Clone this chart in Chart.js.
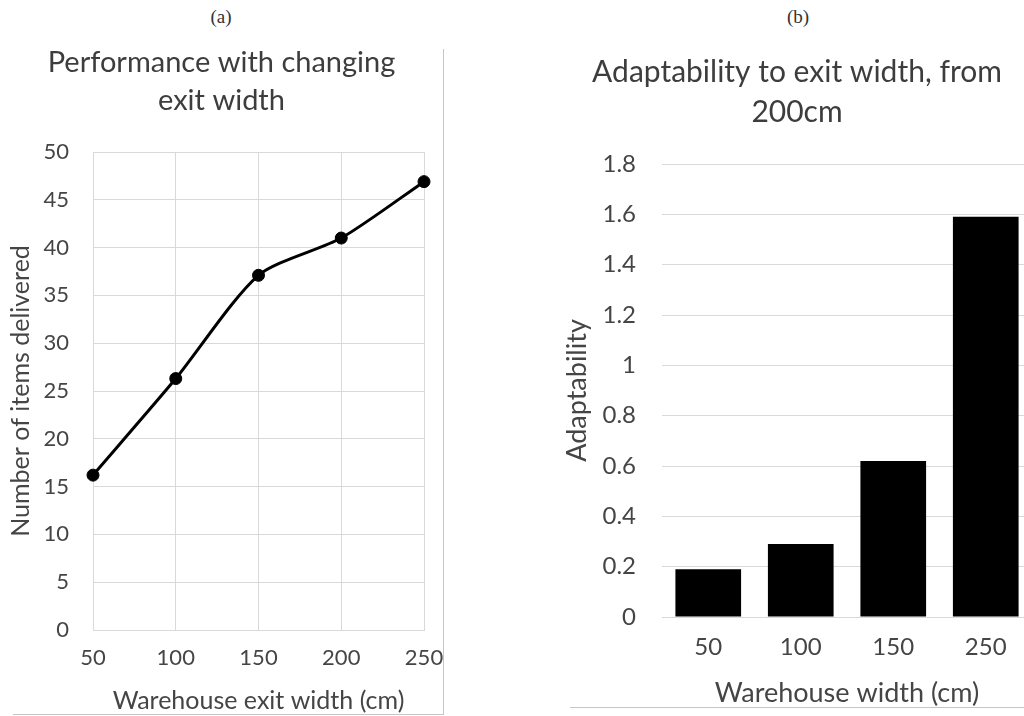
<!DOCTYPE html>
<html>
<head>
<meta charset="utf-8">
<script src="https://cdn.jsdelivr.net/npm/chart.js@4.4.1/dist/chart.umd.min.js"></script>
<style>
  html, body { margin: 0; padding: 0; background: #fff; }
  body { width: 1024px; height: 716px; position: relative; overflow: hidden; }
  .panel-tag { position: absolute; top: 6px; width: 60px; text-align: center; font: 19px "Liberation Serif", "DejaVu Serif", serif; color: #333; }
  canvas { position: absolute; }
  #boxA { position: absolute; left: 13px; top: 49px; width: 430px; height: 665px; border-right: 1px solid #c6c6c6; border-bottom: 1px solid #c6c6c6; }
  #lineB { position: absolute; left: 570px; top: 707px; width: 460px; height: 0; border-top: 1px solid #c6c6c6; }
</style>
</head>
<body>
<div class="panel-tag" style="left:191px">(a)</div>
<div class="panel-tag" style="left:768px">(b)</div>
<div id="boxA"></div>
<div id="lineB"></div>
<canvas id="perfChart" width="443" height="674" style="left:0;top:40px"></canvas>
<canvas id="adaptChart" width="474" height="667" style="left:560px;top:40px"></canvas>
<script>
// (a) performance with changing exit width
const exitWidths = ["50", "100", "150", "200", "250"]
const itemsDelivered = [16.2, 26.3, 37.1, 41.0, 46.9]
const itemTicks = [0, 5, 10, 15, 20, 25, 30, 35, 40, 45, 50]

// (b) adaptability, from 200cm
const warehouseWidths = ["50", "100", "150", "250"]
const adaptability = [0.19, 0.29, 0.62, 1.59]
const adaptTicks = [0, 0.2, 0.4, 0.6, 0.8, 1, 1.2, 1.4, 1.6, 1.8]

const FONT = "Lato, 'Open Sans', sans-serif"
const TITLE_COLOR = "#3d3d3d"
const TICK_COLOR = "#454545"
const GRID = "#d9d9d9"

function fixedTicks(values) {
  return (scale) => {
    scale.ticks = values.map((v) => ({ value: v }))
  }
}

new Chart(document.getElementById("perfChart"), {
  type: "line",
  data: {
    labels: exitWidths,
    datasets: [
      {
        data: itemsDelivered,
        borderColor: "#000",
        borderWidth: 3,
        backgroundColor: "#000",
        pointRadius: 6,
        pointBorderWidth: 1,
        tension: 0.25,
        clip: false,
      },
    ],
  },
  options: {
    responsive: false,
    animation: false,
    layout: { padding: 0 },
    plugins: {
      legend: { display: false },
      tooltip: { enabled: false },
      title: {
        display: true,
        text: ["Performance with changing", "exit width"],
        color: TITLE_COLOR,
        font: { family: FONT, size: 29, weight: "normal", lineHeight: 38 / 29 },
        padding: { top: 4, bottom: 32 },
      },
    },
    scales: {
      x: {
        grid: { color: GRID, drawTicks: false },
        border: { color: GRID },
        ticks: { color: TICK_COLOR, font: { family: FONT, size: 22 }, padding: 15, maxRotation: 0, autoSkip: false },
        title: { display: true, text: "Warehouse exit width (cm)", color: TICK_COLOR, font: { family: FONT, size: 25, lineHeight: 1 }, padding: { top: 0, bottom: 0.5 } },
        afterFit: (s) => {
          // plot area ends 19px short of the chart box, like the original
          s.height = 84
          s.paddingLeft = 0
          s.paddingRight = 19
        },
      },
      y: {
        min: 0,
        max: 50,
        afterBuildTicks: fixedTicks(itemTicks),
        grid: { color: GRID, drawTicks: false },
        border: { color: GRID },
        ticks: { color: TICK_COLOR, font: { family: FONT, size: 22 }, padding: 24 },
        title: { display: true, text: "Number of items delivered", color: TICK_COLOR, font: { family: FONT, size: 25, lineHeight: 1 }, padding: { top: 8.5, bottom: 0 } },
        afterFit: (s) => { s.width = 93 },
      },
    },
  },
})

new Chart(document.getElementById("adaptChart"), {
  type: "bar",
  data: {
    labels: warehouseWidths,
    datasets: [
      {
        data: adaptability,
        backgroundColor: "#000",
        borderWidth: 0,
        categoryPercentage: 1,
        barPercentage: 0.71,
      },
    ],
  },
  options: {
    responsive: false,
    animation: false,
    layout: { padding: 0 },
    plugins: {
      legend: { display: false },
      tooltip: { enabled: false },
      title: {
        display: true,
        text: ["Adaptability to exit width, from", "200cm"],
        color: TITLE_COLOR,
        font: { family: FONT, size: 30, weight: "normal", lineHeight: 40 / 30 },
        padding: { top: 12, bottom: 32 },
      },
    },
    scales: {
      x: {
        grid: { display: false, drawTicks: false },
        border: { display: false },
        ticks: { color: TICK_COLOR, font: { family: FONT, size: 24 }, padding: 16, maxRotation: 0 },
        title: { display: true, text: "Warehouse width (cm)", color: TICK_COLOR, font: { family: FONT, size: 27, lineHeight: 1 }, padding: { top: 0, bottom: 0.5 } },
        afterFit: (s) => {
          s.height = 90
          s.paddingLeft = 0
          s.paddingRight = 2
        },
      },
      y: {
        min: 0,
        max: 1.8,
        afterBuildTicks: fixedTicks(adaptTicks),
        grid: { color: GRID, drawTicks: false },
        border: { display: false },
        ticks: {
          color: TICK_COLOR,
          font: { family: FONT, size: 24 },
          padding: 26,
          callback: (v) => String(Math.round(v * 10) / 10),
        },
        title: { display: true, text: "Adaptability", color: TICK_COLOR, font: { family: FONT, size: 27, lineHeight: 1 }, padding: { top: 3.5, bottom: 0 } },
        afterFit: (s) => { s.width = 102 },
      },
    },
  },
})
</script>
</body>
</html>
